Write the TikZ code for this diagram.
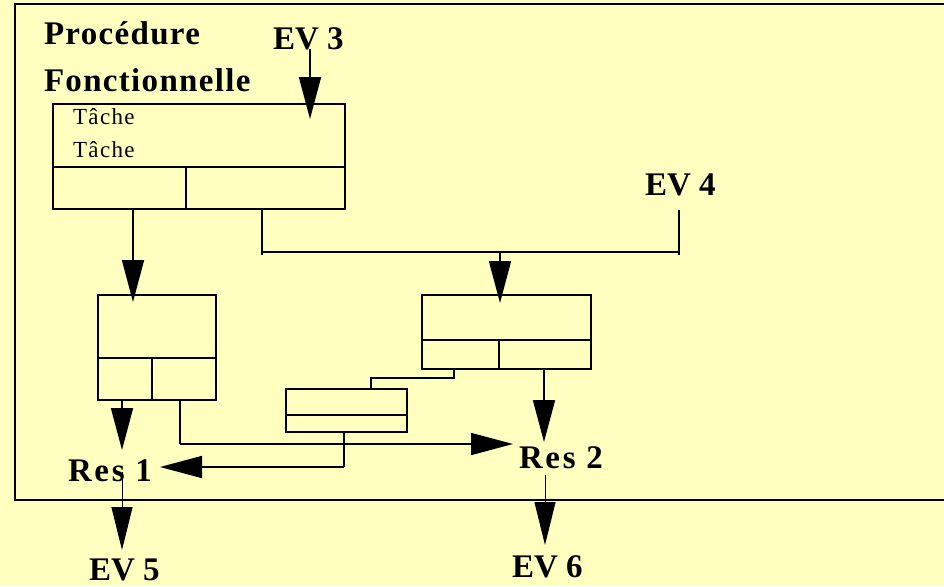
\documentclass[tikz,border=0pt]{standalone}
\usepackage{fontspec}
\setmainfont{Liberation Serif}
\usetikzlibrary{arrows.meta}
\definecolor{bgyellow}{RGB}{255,255,192}
\begin{document}
\begin{tikzpicture}[x=1pt,y=-1pt,
  box/.style={draw, line width=1.7pt, rectangle, inner sep=0pt, outer sep=0pt, anchor=north west},
  ln/.style={line width=1.7pt},
  arr/.style={line width=1.7pt, -{Triangle[length=42pt,width=22pt]}},
  thinarr/.style={line width=1pt, -{Triangle[length=43pt,width=21pt]}},
  big/.style={font=\fontsize{33}{36}\selectfont\bfseries, inner sep=0pt, outer sep=0pt, anchor=base west},
  bigsp/.style={big, font=\fontsize{33}{36}\selectfont\bfseries\addfontfeature{LetterSpace=4}},
  bigres/.style={big, font=\fontsize{33}{36}\selectfont\bfseries\addfontfeature{LetterSpace=8}},
  small/.style={font=\fontsize{23}{26}\selectfont\addfontfeature{LetterSpace=6}, inner sep=0pt, outer sep=0pt, anchor=base west}]
\fill[bgyellow] (0,0) rectangle (944,586);
\useasboundingbox (0,0) rectangle (944,586);
% outer frame
\draw[ln] (950,4) -- (15,4) -- (15,500) -- (950,500);
% labels
\node[bigsp] (proc) at (44,45) {Procédure};
\node[bigsp] (fonc) at (44,91) {Fonctionnelle};
\node[big] (ev3) at (273,49) {EV 3};
\node[big] (ev4) at (645,195) {EV 4};
\node[bigres] (res1) at (68,481) {Res 1};
\node[bigres] (res2) at (519,468) {Res 2};
\node[big] (ev5) at (89,580) {EV 5};
\node[big] (ev6) at (512,577) {EV 6};
% boxes
\node[box, minimum width=292pt, minimum height=105pt] (T) at (53,104) {};
\node[small] (t1) at (73,124) {Tâche};
\node[small] (t2) at (73,157) {Tâche};
\draw[ln] (53,167) -- (345,167) (186,167) -- (186,209);
\node[box, minimum width=118pt, minimum height=105pt] (L) at (98,295) {};
\draw[ln] (98,358) -- (216,358) (152,358) -- (152,400);
\node[box, minimum width=169pt, minimum height=74pt] (R) at (422,295) {};
\draw[ln] (422,340) -- (591,340) (499,340) -- (499,369);
\node[box, minimum width=121pt, minimum height=43pt] (S) at (286,389) {};
\draw[ln] (286,415) -- (407,415);
% connectors
\draw[arr] ([xshift=37pt]ev3.south west) -- (310,119);
\draw[arr] (133,209) -- (133,302);
\draw[ln] (262,209) -- (262,255) (262,252) -- (679,252) (679,255) -- (679,210);
\coordinate (j) at (500,252);
\draw[arr] (j) -- (500,303);
\draw[arr] (122,400) -- (122,450);
\draw[ln] (180,400) -- (180,444);
\draw[arr] (180,444) -- (513,444);
\draw[ln] (344,432) -- (344,467);
\draw[arr] (344,467) -- (160,467);
\draw[ln] (371,389) -- (371,378) -- (454,378) -- (454,369);
\draw[arr] (544,369) -- (544,442);
\draw[thinarr] (122,472) -- (122,550);
\draw[thinarr] (545,475) -- (545,545);
\end{tikzpicture}
\end{document}
